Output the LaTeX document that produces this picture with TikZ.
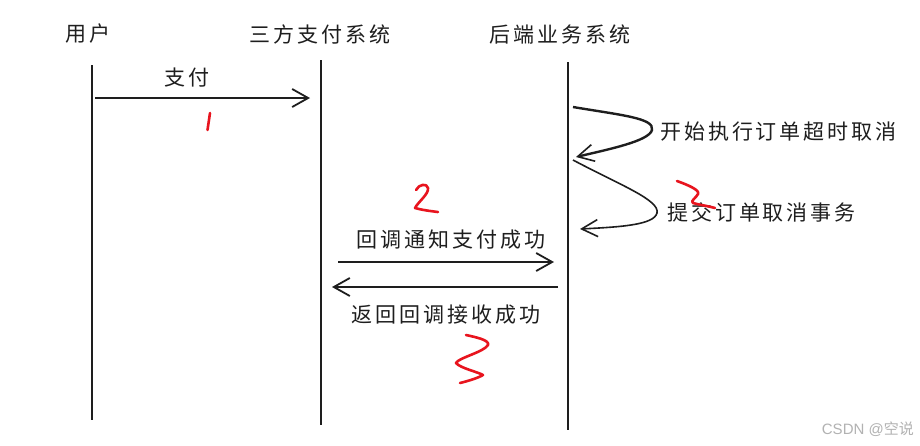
\documentclass[tikz,border=0pt]{standalone}
\usepackage{fontspec}
\setmainfont{Liberation Sans}
\newfontfamily\cjk[LetterSpace=14]{Noto Sans CJK SC}
\newfontfamily\cjkn{Noto Sans CJK SC}
\usetikzlibrary{arrows.meta}
\definecolor{ink}{HTML}{1E1E1E}
\definecolor{redink}{HTML}{E8141E}
\begin{document}
\begin{tikzpicture}[x=1pt,y=-1pt,
  lbl/.style={font=\cjk\fontsize{21}{21}\selectfont, text=ink, inner sep=0pt},
  life/.style={draw=ink, line width=2.2pt},
  msg/.style={draw=ink, line width=2.2pt, -{Straight Barb[length=16pt,width=18pt,line width=1.8pt]}},
  loopar/.style={draw=ink, line width=2.4pt, -{Straight Barb[length=16pt,width=17pt,line width=1.6pt]}},
  rednum/.style={draw=redink, line width=2.6pt, line cap=round, line join=round}]
\useasboundingbox (0,0) rectangle (920,445);
\fill[white] (0,0) rectangle (920,445);

% headers
\node[lbl] (hu) at (88,34) {用户};
\node[lbl] (hs) at (320,34) {三方支付系统};
\node[lbl] (hb) at (560,34) {后端业务系统};

% lifelines
\coordinate (u1) at (92,65);  \coordinate (u2) at (92,420);
\coordinate (s1) at (321,60); \coordinate (s2) at (321,425);
\coordinate (b1) at (568,62); \coordinate (b2) at (568,430);
\draw[life] (u1) -- (u2);
\draw[life] (s1) -- (s2);
\draw[life] (b1) -- (b2);

% pay
\coordinate (pa) at (95,98); \coordinate (pb) at (310,98);
\draw[msg] (pa) -- (pb);
\node[lbl] (lpay) at (187,78) {支付};

% callback
\coordinate (ca) at (338,262); \coordinate (cb) at (554,262);
\draw[msg] (ca) -- (cb);
\node[lbl] (lcb) at (451,240) {回调通知支付成功};

% reply
\coordinate (ra) at (558,287); \coordinate (rb) at (332,287);
\draw[msg] (ra) -- (rb);
\node[lbl] (lrp) at (446,315) {返回回调接收成功};

% self loops
\coordinate (l1s) at (573,107); \coordinate (l1m) at (652,130); \coordinate (l1e) at (576,157);
\draw[loopar] (l1s) .. controls (620,115) and (655,118) .. (l1m) .. controls (649,141) and (610,149) .. (l1e);
\node[lbl,anchor=west] (lt1) at (660,132) {开始执行订单超时取消};

\coordinate (l2s) at (573,160); \coordinate (l2m) at (657,213); \coordinate (l2e) at (580,229);
\draw[loopar, line width=1.6pt] (l2s) .. controls (620,185) and (660,200) .. (l2m) .. controls (654,225) and (620,227) .. (l2e);
\node[lbl,anchor=west] (lt2) at (667,212) {提交订单取消事务};

% red numbers
\draw[rednum] (210,113) -- (207.5,130);
\draw[rednum] (416,190) .. controls (419,184) and (427,183) .. (428,188) .. controls (429,194) and (418,202) .. (415,208) .. controls (422,210) and (430,211) .. (438,212);
\draw[rednum] (677,181) .. controls (688,185) and (700,190) .. (698,194) .. controls (696,198) and (690,201) .. (693,203) .. controls (700,205) and (708,206) .. (715,208);
\draw[rednum] (466,335) .. controls (475,337) and (490,340) .. (488,345) .. controls (484,352) and (458,358) .. (456,363) .. controls (460,368) and (478,372) .. (483,375) .. controls (478,378) and (468,381) .. (460,383);

% watermark
\node[anchor=east, inner sep=0pt, text=black!30, font=\fontsize{15}{15}\selectfont] (wm) at (914,429) {CSDN @{\cjkn 空说}};
\end{tikzpicture}
\end{document}
